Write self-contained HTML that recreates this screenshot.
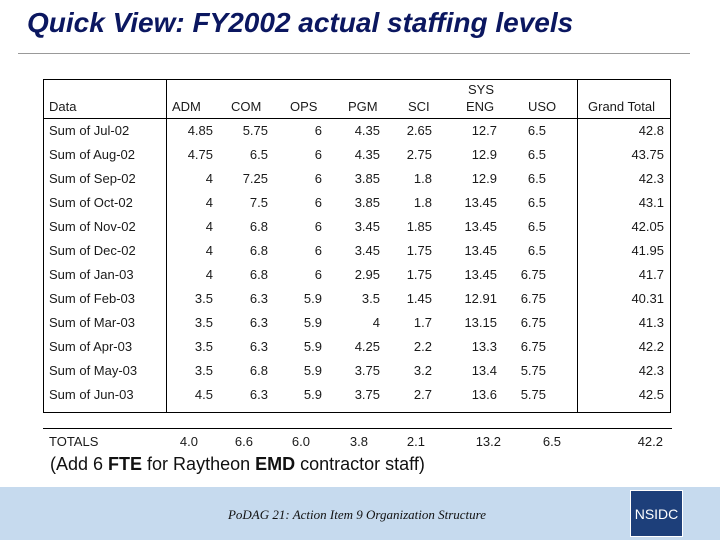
<!DOCTYPE html>
<html><head><meta charset="utf-8"><style>
body{margin:0;width:720px;height:540px;position:relative;background:#fff;font-family:"Liberation Sans",sans-serif;overflow:hidden}
.a{position:absolute;white-space:nowrap}
.t{font-size:13px;color:#1a1a1a}
.r{text-align:right}
</style></head><body>
<div class="a" style="left:27px;top:7px;font-size:28px;font-weight:bold;font-style:italic;color:#0b1760">Quick View: FY2002 actual staffing levels</div>
<div class="a" style="left:18px;top:53px;width:672px;height:1px;background:#999"></div>
<div class="a" style="left:43px;top:79px;width:628px;height:334px;border:1px solid #000;box-sizing:border-box"></div>
<div class="a" style="left:43px;top:118px;width:628px;height:1px;background:#000"></div>
<div class="a" style="left:166px;top:79px;width:1px;height:334px;background:#000"></div>
<div class="a" style="left:577px;top:79px;width:1px;height:334px;background:#000"></div>
<div class="a" style="left:43px;top:428px;width:629px;height:1px;background:#000"></div>
<div id="tbl"></div>
<div class="a" style="left:50px;top:454px;font-size:18px;color:#111">(Add 6 <b>FTE</b> for Raytheon <b>EMD</b> contractor staff)</div>
<div class="a" style="left:0;top:487px;width:720px;height:53px;background:#c6daee"></div>
<div class="a" style="left:0;width:714px;top:507px;text-align:center;font-family:'Liberation Serif',serif;font-style:italic;font-size:13px;color:#111">PoDAG 21: Action Item 9 Organization Structure</div>
<div class="a" style="left:630px;top:490px;width:53px;height:47px;background:#1d3f7a;border:1px solid #fff;box-sizing:border-box;color:#fff;font-size:14px;text-align:center;line-height:47px">NSIDC</div>
<script>
const headers=["ADM","COM","OPS","PGM","SCI","SYS ENG","USO","Grand Total"];
const rowLabels=["Sum of Jul-02","Sum of Aug-02","Sum of Sep-02","Sum of Oct-02","Sum of Nov-02","Sum of Dec-02","Sum of Jan-03","Sum of Feb-03","Sum of Mar-03","Sum of Apr-03","Sum of May-03","Sum of Jun-03"];
const values=[
["4.85","5.75","6","4.35","2.65","12.7","6.5","42.8"],
["4.75","6.5","6","4.35","2.75","12.9","6.5","43.75"],
["4","7.25","6","3.85","1.8","12.9","6.5","42.3"],
["4","7.5","6","3.85","1.8","13.45","6.5","43.1"],
["4","6.8","6","3.45","1.85","13.45","6.5","42.05"],
["4","6.8","6","3.45","1.75","13.45","6.5","41.95"],
["4","6.8","6","2.95","1.75","13.45","6.75","41.7"],
["3.5","6.3","5.9","3.5","1.45","12.91","6.75","40.31"],
["3.5","6.3","5.9","4","1.7","13.15","6.75","41.3"],
["3.5","6.3","5.9","4.25","2.2","13.3","6.75","42.2"],
["3.5","6.8","5.9","3.75","3.2","13.4","5.75","42.3"],
["4.5","6.3","5.9","3.75","2.7","13.6","5.75","42.5"]];
const totals=["4.0","6.6","6.0","3.8","2.1","13.2","6.5","42.2"];
const hdrX=[172,231,290,348,408,466,528,588];
const colR=[213,268,322,380,432,497,546,664];
const totR=[198,253,310,368,425,501,561,663];
const T=document.getElementById('tbl');
function add(txt,x,y,right,name){const d=document.createElement('div');d.className='a t'+(right?' r':'');


d.textContent=txt;d.style.top=y+'px';if(right){d.style.left=(x-80)+'px';d.style.width='80px'}else d.style.left=x+'px';T.appendChild(d);}
add("Data",49,99,false,'header-data');
headers.forEach((h,i)=>{if(h==="SYS ENG"){add("SYS",468,82,false,'header-sys');add("ENG",466,99,false,'header-eng');}else add(h,hdrX[i],99,false,'header-'+h.toLowerCase().replace(' ','-'));});
rowLabels.forEach((l,r)=>{const y=123+r*24;add(l,49,y,false,'row-label');values[r].forEach((v,c)=>add(v,colR[c],y,true,'cell-value'));});
add("TOTALS",49,434,false,'totals-label');
totals.forEach((v,c)=>add(v,totR[c],434,true,'total-value'));
</script>
</body></html>
